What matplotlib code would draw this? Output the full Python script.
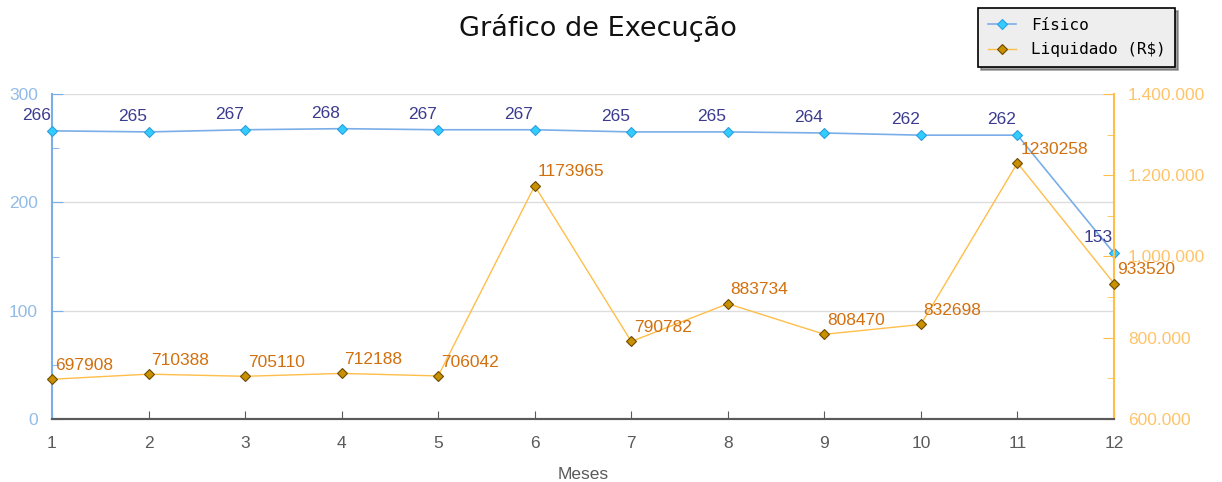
import matplotlib
matplotlib.use("Agg")
import matplotlib.pyplot as plt
from matplotlib.ticker import MultipleLocator, FuncFormatter

# dados do gráfico
meses = [1, 2, 3, 4, 5, 6, 7, 8, 9, 10, 11, 12]
fisico = [266, 265, 267, 268, 267, 267, 265, 265, 264, 262, 262, 153]
liquidado = [697908, 710388, 705110, 712188, 706042, 1173965, 790782,
             883734, 808470, 832698, 1230258, 933520]

AZUL_LINHA = "#7aaee8"
AZUL_TICK = "#92bbe6"
LARANJA_LINHA = "#ffbe4a"
LARANJA_TICK = "#ffc46a"
CINZA = "#5a5a5a"

plt.rcParams["font.family"] = ["Liberation Sans", "DejaVu Sans"]

fig = plt.figure(figsize=(12.22, 4.82), dpi=100)
ax = fig.add_axes([52 / 1222, 1 - 419 / 482, (1114 - 52) / 1222, (419 - 94) / 482])
ax2 = ax.twinx()

# === Físico (eixo esquerdo) ===
ax.plot(meses, fisico, color=AZUL_LINHA, lw=1.2, marker="D", ms=5.5,
        mfc="#33ccff", mec="#2a9fe0", mew=0.8, clip_on=False, zorder=3,
        label="Físico")
for m, v in zip(meses, fisico):
    ax.annotate(str(v), (m, v), xytext=(-1, 11), textcoords="offset points",
                ha="right", va="center", color="#3b3b8f", fontsize=12.5)

# === Liquidado (eixo direito) ===
ax2.plot(meses, liquidado, color=LARANJA_LINHA, lw=1.0, marker="D", ms=5.5,
         mfc="#c99000", mec="#6e4a00", mew=0.8, clip_on=False, zorder=3,
         label="Liquidado (R$)")
for m, v in zip(meses, liquidado):
    ax2.annotate(str(v), (m, v), xytext=(2, 10), textcoords="offset points",
                 ha="left", va="center", color="#d2700f", fontsize=12.5)

# eixos
ax.set_xlim(1, 12)
ax.set_ylim(0, 300)
ax2.set_ylim(600000, 1400000)
ax.set_xticks(meses)
ax.yaxis.set_major_locator(MultipleLocator(100))
ax.yaxis.set_minor_locator(MultipleLocator(50))
ax2.yaxis.set_major_locator(MultipleLocator(200000))
ax2.yaxis.set_minor_locator(MultipleLocator(100000))
ax2.yaxis.set_major_formatter(FuncFormatter(lambda v, p: f"{int(v):,}".replace(",", ".")))

ax.grid(axis="y", color="#dddddd", lw=1)
ax.set_axisbelow(True)

for a in (ax, ax2):
    a.spines["top"].set_visible(False)
    a.spines["bottom"].set_color(CINZA)
    a.spines["bottom"].set_linewidth(1.5)
ax.spines["left"].set_color(AZUL_LINHA)
ax.spines["right"].set_visible(False)
ax2.spines["left"].set_visible(False)
ax2.spines["right"].set_color(LARANJA_LINHA)
ax2.spines["right"].set_linewidth(1.5)
ax.spines["left"].set_linewidth(1.5)

ax.tick_params(axis="x", direction="in", length=6, color=CINZA, labelcolor=CINZA,
               labelsize=12.5, pad=12)
ax.tick_params(axis="y", which="both", direction="in", color=AZUL_LINHA,
               labelcolor=AZUL_TICK, labelsize=12.5, pad=10)
ax.tick_params(axis="y", which="major", length=8)
ax.tick_params(axis="y", which="minor", length=5)
ax2.tick_params(axis="y", which="both", direction="in", color=LARANJA_LINHA,
                labelcolor=LARANJA_TICK, labelsize=12.5, pad=10)
ax2.tick_params(axis="y", which="major", length=8)
ax2.tick_params(axis="y", which="minor", length=5)

ax.set_xlabel("Meses", color=CINZA, fontsize=12.5, labelpad=12)
fig.text(598 / 1222, 1 - 28 / 482, "Gráfico de Execução", ha="center", va="center",
         fontsize=19.5, family="DejaVu Sans", color="#111111")

# legenda
h1, l1 = ax.get_legend_handles_labels()
h2, l2 = ax2.get_legend_handles_labels()
leg = fig.legend(h1 + h2, l1 + l2, loc="upper left",
                 bbox_to_anchor=(978 / 1222, 1 - 8 / 482), borderaxespad=0,
                 prop={"family": "DejaVu Sans Mono", "size": 11.5},
                 frameon=True, fancybox=False, shadow=True, facecolor="#eeeeee",
                 edgecolor="black", handlelength=1.8, borderpad=0.6,
                 labelspacing=0.6, handletextpad=0.9)
leg.get_frame().set_linewidth(1.2)

fig.savefig("out.png", dpi=100)
